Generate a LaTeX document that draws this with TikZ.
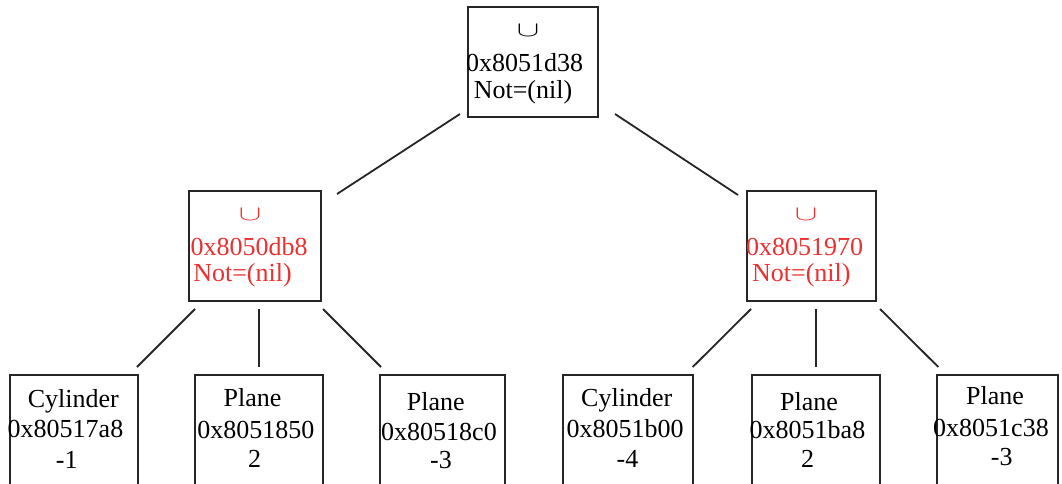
\documentclass[tikz,border=0pt]{standalone}
\usepackage{graphicx}
\usepackage{fontspec}
\setmainfont{Liberation Serif}
\definecolor{nodered}{RGB}{236,48,48}
\newcommand{\mycup}{\scalebox{1.35}[0.85]{$\cup$}}
\begin{document}
\begin{tikzpicture}[x=1pt,y=-1pt,
  box/.style={draw=black!85, line width=2pt, inner sep=0pt, outer sep=0pt, fill=none},
  link/.style={draw=black!85, line width=1.8pt},
  txt/.style={anchor=base, inner sep=0pt, outer sep=0pt, font=\fontsize{26}{28}\selectfont},
  redtxt/.style={txt, text=nodered}]
\clip (0,0) rectangle (1062,484);
\fill[white] (0,0) rectangle (1062,484);
% boxes
\node[box, minimum width=130pt, minimum height=110pt] (root) at (533,62.5) {};
\node[box, minimum width=131.5pt, minimum height=110pt] (L) at (254.8,246) {};
\node[box, minimum width=128.7pt, minimum height=110pt] (R) at (811.7,246) {};
\node[box, minimum width=128.3pt, minimum height=130pt] (b1) at (74.2,440) {};
\node[box, minimum width=128.3pt, minimum height=130pt] (b2) at (259.2,440) {};
\node[box, minimum width=125pt, minimum height=130pt] (b3) at (442.5,440) {};
\node[box, minimum width=130pt, minimum height=130pt] (b4) at (628.3,440) {};
\node[box, minimum width=128.3pt, minimum height=130pt] (b5) at (815.8,440) {};
\node[box, minimum width=121.3pt, minimum height=130pt] (b6) at (997.3,440) {};
% texts
\node[txt] (rootA) at (528,37) {\mycup};
\node[txt] (rootB) at (524.5,71.7) {0x8051d38};
\node[txt] (rootC) at (523,99) {Not=(nil)};
\node[redtxt] (LA) at (250,220) {\mycup};
\node[redtxt] (LB) at (249,255) {0x8050db8};
\node[redtxt] (LC) at (242.5,281) {Not=(nil)};
\node[redtxt] (RA) at (806,220) {\mycup};
\node[redtxt] (RB) at (804.7,255) {0x8051970};
\node[redtxt] (RC) at (801.3,281) {Not=(nil)};
\node[txt] (b1A) at (73.3,407) {Cylinder};
\node[txt] (b1B) at (65.5,437.5) {0x80517a8};
\node[txt] (b1C) at (66.7,468) {-1};
\node[txt] (b2A) at (252.5,406.7) {Plane};
\node[txt] (b2B) at (255.8,438) {0x8051850};
\node[txt] (b2C) at (254.5,467) {2};
\node[txt] (b3A) at (435.8,410) {Plane};
\node[txt] (b3B) at (439,440) {0x80518c0};
\node[txt] (b3C) at (441,468) {-3};
\node[txt] (b4A) at (626.7,406) {Cylinder};
\node[txt] (b4B) at (625,437) {0x8051b00};
\node[txt] (b4C) at (627.5,467) {-4};
\node[txt] (b5A) at (809,410) {Plane};
\node[txt] (b5B) at (807.5,438) {0x8051ba8};
\node[txt] (b5C) at (807.5,467) {2};
\node[txt] (b6A) at (995,404) {Plane};
\node[txt] (b6B) at (991,436.7) {0x8051c38};
\node[txt] (b6C) at (1001.7,465) {-3};
% connector end points (connectors stop short of the boxes)
\coordinate (rootL) at (460,114);
\coordinate (rootR) at (615,114);
\coordinate (Ltop) at (337,194);
\coordinate (Rtop) at (738,195);
\coordinate (L1) at (195,309);
\coordinate (L2) at (259,309);
\coordinate (L3) at (323,309);
\coordinate (R1) at (751,309);
\coordinate (R2) at (815.7,309);
\coordinate (R3) at (880,309);
\coordinate (b1t) at (137,367);
\coordinate (b2t) at (259,367);
\coordinate (b3t) at (381,367);
\coordinate (b4t) at (692.7,367);
\coordinate (b5t) at (815.7,367);
\coordinate (b6t) at (938.3,367);
% connectors
\draw[link] (rootL) -- (Ltop);
\draw[link] (rootR) -- (Rtop);
\draw[link] (L1) -- (b1t);
\draw[link] (L2) -- (b2t);
\draw[link] (L3) -- (b3t);
\draw[link] (R1) -- (b4t);
\draw[link] (R2) -- (b5t);
\draw[link] (R3) -- (b6t);
\end{tikzpicture}
\end{document}
